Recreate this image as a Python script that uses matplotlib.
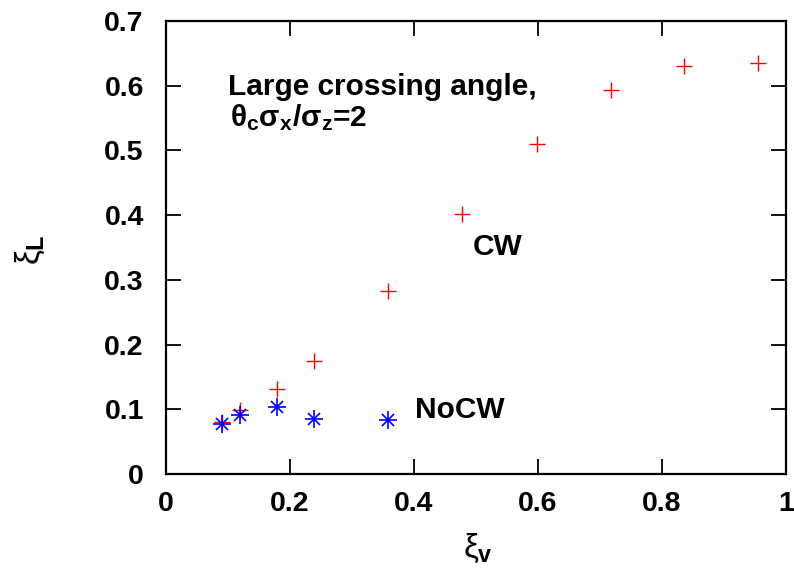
import matplotlib
matplotlib.use("Agg")
import matplotlib.pyplot as plt

plt.rcParams['font.family'] = ['Liberation Sans', 'DejaVu Sans']
plt.rcParams['mathtext.fontset'] = 'custom'
plt.rcParams['mathtext.rm'] = 'Liberation Sans'
plt.rcParams['mathtext.it'] = 'Liberation Sans'
plt.rcParams['mathtext.bf'] = 'Liberation Sans:bold'

# Data
cw_x = [0.090, 0.119, 0.179, 0.239, 0.358, 0.478, 0.598, 0.717, 0.836, 0.955]
cw_y = [0.080, 0.099, 0.131, 0.174, 0.283, 0.402, 0.510, 0.593, 0.630, 0.635]
nocw_x = [0.090, 0.119, 0.179, 0.239, 0.358]
nocw_y = [0.077, 0.091, 0.103, 0.085, 0.084]
x_ticks = [0, 0.2, 0.4, 0.6, 0.8, 1]
x_labels = ['0', '0.2', '0.4', '0.6', '0.8', '1']
y_ticks = [0, 0.1, 0.2, 0.3, 0.4, 0.5, 0.6, 0.7]
y_labels = ['0', '0.1', '0.2', '0.3', '0.4', '0.5', '0.6', '0.7']

fig = plt.figure(figsize=(7.94, 5.72), dpi=100)
ax = fig.add_axes([166/794, 1 - 474/572, (786-166)/794, (474-21)/572])

ax.plot(cw_x, cw_y, linestyle='none', marker='+', markersize=11.5,
        markeredgewidth=1.0, color='#ff0000', zorder=3)
ax.plot(nocw_x, nocw_y, linestyle='none', marker='+', markersize=12.5,
        markeredgewidth=1.2, color='#0000ff', zorder=4)
ax.plot(nocw_x, nocw_y, linestyle='none', marker='x', markersize=9,
        markeredgewidth=1.2, color='#0000ff', zorder=4)

ax.set_xlim(0, 1)
ax.set_ylim(0, 0.7)
ax.set_xticks(x_ticks)
ax.set_xticklabels(x_labels)
ax.set_yticks(y_ticks)
ax.set_yticklabels(y_labels)
ax.tick_params(direction='in', length=11, width=1.3, top=True, right=True,
               labelsize=20.5)
ax.tick_params(axis='y', pad=16)
ax.tick_params(axis='x', pad=12)
for lab in ax.get_xticklabels() + ax.get_yticklabels():
    lab.set_fontweight('bold')
for s in ax.spines.values():
    s.set_linewidth(1.6)

fig.text(478/794, 1-548/572, r'$\xi_{\mathbf{v}}$', fontsize=24,
         ha='center', va='center')
fig.text(30/794, 1-250/572, r'$\xi_{\mathbf{L}}$', fontsize=24,
         ha='center', va='center', rotation=90)

fig.text(228/794, 1-87/572, 'Large crossing angle,',
         fontsize=21.5, fontweight='bold', va='center', ha='left')
fig.text(230/794, 1-118/572, r'$\mathbf{\theta_c\sigma_x/\sigma_z}$=2',
         fontsize=21.5, fontweight='bold', va='center', ha='left')
fig.text(473/794, 1-247/572, 'CW',
         fontsize=21.5, fontweight='bold', va='center', ha='left')
fig.text(415/794, 1-410/572, 'NoCW',
         fontsize=21.5, fontweight='bold', va='center', ha='left')

fig.savefig('out.png', dpi=100)
